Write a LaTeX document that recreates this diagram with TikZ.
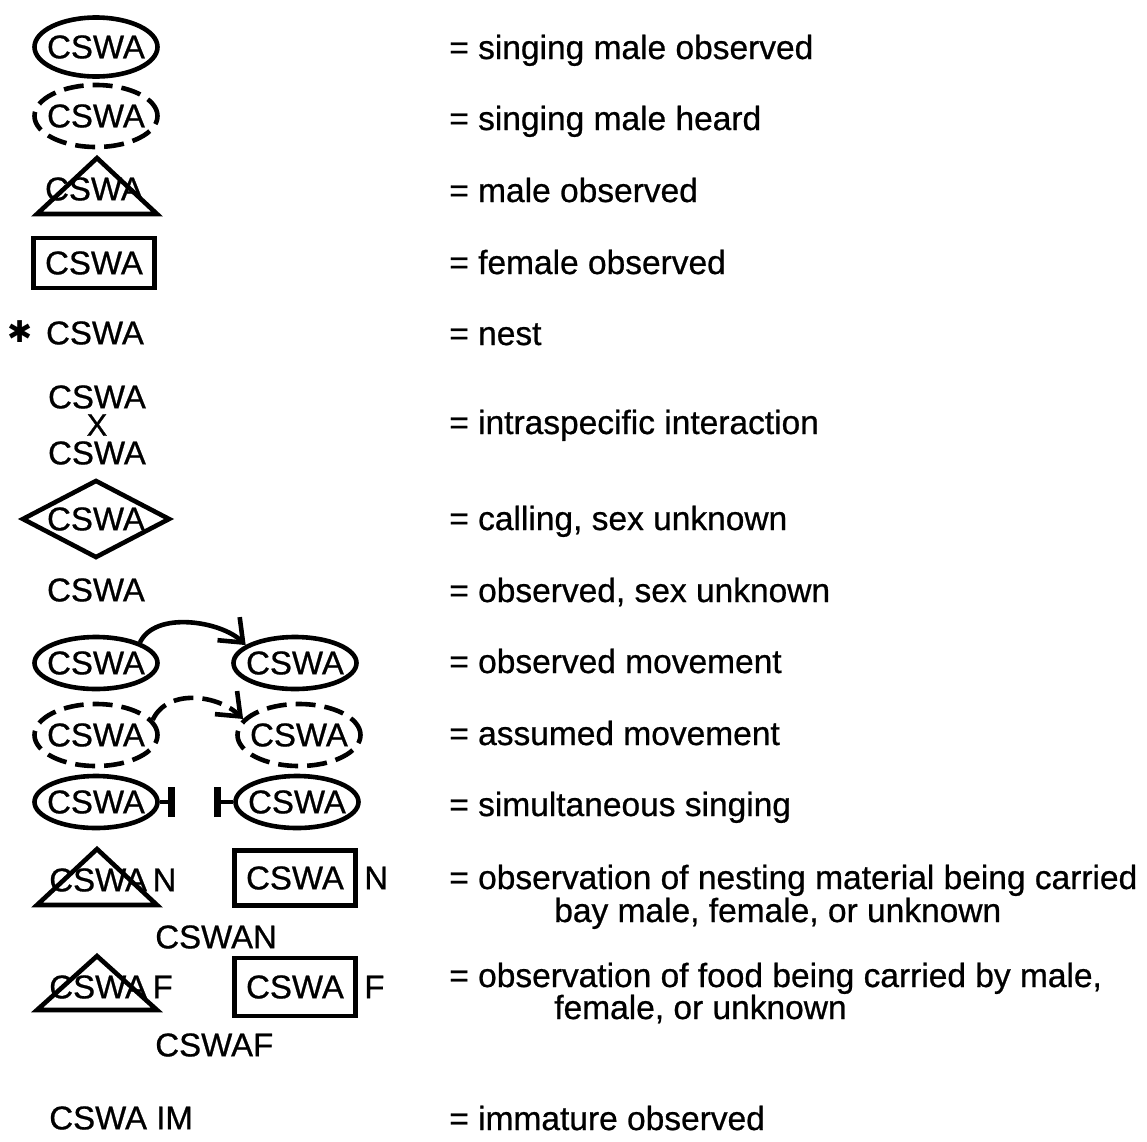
\documentclass[tikz,border=0pt]{standalone}
\usepackage{fontspec}
\setmainfont{Liberation Sans}[FakeBold=0.7]
\newfontfamily\starfont{DejaVu Sans}
\usetikzlibrary{shapes.geometric,arrows.meta,positioning}

\begin{document}
\begin{tikzpicture}[
	x=1pt, y=-1pt,
	font=\fontsize{33}{38}\selectfont,
	line width=4.6pt,
	node distance=199pt,
	on grid,
	sing/.style={
		ellipse,
		draw,
		inner sep=0pt,
		minimum width=123pt,
		minimum height=52pt
	},
	heard/.style={
		sing,
		minimum height=62pt,
		dash pattern=on 20pt off 9pt
	},
	male/.style={
		isosceles triangle,
		isosceles triangle stretches,
		shape border rotate=90,
		draw,
		inner sep=0pt,
		minimum width=120pt,
		minimum height=56pt,
		anchor=apex
	},
	female/.style={
		rectangle,
		draw,
		inner sep=0pt,
		minimum width=121pt,
		minimum height=50pt
	},
	calling/.style={
		diamond,
		draw,
		inner sep=0pt,
		minimum width=148pt,
		minimum height=78pt
	},
	code/.style={inner sep=0pt},
	desc/.style={
		anchor=base west,
		inner sep=0pt,
		font=\fontsize{33.5}{38}\selectfont
	},
	move/.style={-{Straight Barb[length=20pt,width=32pt]}},
	sim/.style={-{Bar[width=30pt,line width=7pt]}}
	]
	\useasboundingbox (0,0) rectangle (1147,1141);

	% symbols
	\node[sing, minimum height=59pt, label=center:CSWA] (s_1) at (96,47) {};
	\node[heard, label=center:CSWA] (h_1) at (96,116) {};
	\node[code] (m_1) at (94,189) {CSWA};
	\node[male] (t_1) at (97,152) {};
	\node[female] (f_1) at (94,263) {CSWA};
	\node[code, font=\starfont\fontsize{30}{32}\selectfont] (star) at (20,332) {✱};
	\node[code] (n_1) at (95,333) {CSWA};
	\node[code] (i_1) at (97,397) {CSWA};
	\node[code, below=28pt of i_1, font=\fontsize{31}{34}\selectfont] (x_1) {X};
	\node[code, below=28pt of x_1] (i_2) {CSWA};
	\node[calling, label=center:CSWA] (c_1) at (96,519) {};
	\node[code] (u_1) at (96,590) {CSWA};

	\node[sing, label=center:CSWA] (o_1) at (96,663) {};
	\node[sing, right=of o_1, label=center:CSWA] (o_2) {};
	\node[heard, label=center:CSWA] (a_1) at (96,735) {};
	\node[heard, right=203pt of a_1, label=center:CSWA] (a_2) {};
	\node[sing, label=center:CSWA] (p_1) at (96,802) {};
	\node[sing, right=201pt of p_1, label=center:CSWA] (p_2) {};
	\coordinate (b_1) at (175,802);
	\coordinate (b_2) at (214,802);

	\node[code, anchor=west] (m_2) at (47,880) {CSWA\,N};
	\node[male] (t_2) at (97,843) {};
	\node[female, minimum height=55pt] (f_2) at (295,878) {CSWA};
	\node[code, anchor=west] (fn_2) at (362,878) {N};
	\node[code, anchor=west] (w_2) at (153,937) {CSWAN};

	\node[code, anchor=west] (m_3) at (47,987) {CSWA\,F};
	\node[male, minimum height=54pt] (t_3) at (97,950) {};
	\node[female, minimum height=58pt] (f_3) at (295,987) {CSWA};
	\node[code, anchor=west] (fn_3) at (362,987) {F};
	\node[code, anchor=west] (w_3) at (153,1045) {CSWAF};

	\node[code, anchor=west] (im) at (47,1118) {CSWA IM};

	% movement and singing
	\draw[move] (o_1.25) .. controls +(15,-32) and +(-25,-24) .. (o_2.160);
	\draw[move, dash pattern=on 20pt off 9pt] (a_1.15) .. controls +(15,-32) and +(-25,-24) .. (a_2.164);
	\draw[sim] (p_1) -- (b_1);
	\draw[sim] (p_2) -- (b_2);

	% meanings
	\node[desc] (d_1) at (447,59) {= singing male observed};
	\node[desc] (d_2) at (447,130) {= singing male heard};
	\node[desc] (d_3) at (447,202) {= male observed};
	\node[desc] (d_4) at (447,274) {= female observed};
	\node[desc] (d_5) at (447,345) {= nest};
	\node[desc] (d_6) at (447,434) {= intraspecific interaction};
	\node[desc] (d_7) at (447,530) {= calling, sex unknown};
	\node[desc] (d_8) at (447,602) {= observed, sex unknown};
	\node[desc] (d_9) at (447,673) {= observed movement};
	\node[desc] (d_10) at (447,745) {= assumed movement};
	\node[desc] (d_11) at (447,816) {= simultaneous singing};
	\node[desc] (d_12) at (447,889) {= observation of nesting material being carried};
	\node[desc] (d_12b) at (552,922) {bay male, female, or unknown};
	\node[desc] (d_13) at (447,987) {= observation of food being carried by male,};
	\node[desc] (d_13b) at (552,1019) {female, or unknown};
	\node[desc] (d_14) at (447,1130) {= immature observed};
\end{tikzpicture}
\end{document}
